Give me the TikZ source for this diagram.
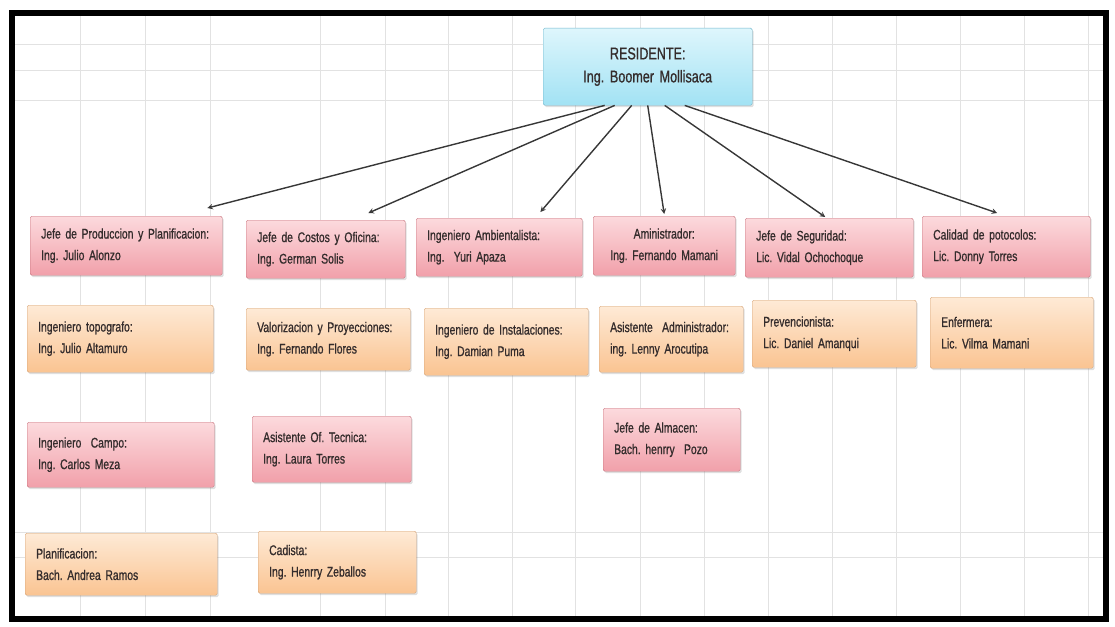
\documentclass[tikz,border=0pt]{standalone}
\usepackage{fontspec}
\setmainfont[FakeStretch=0.74,WordSpace=0.45,FakeBold=0.9]{Liberation Sans}
\frenchspacing
\usetikzlibrary{shadows}

\definecolor{gridgray}{RGB}{226,226,226}
\definecolor{txtgray}{RGB}{52,44,44}
\definecolor{pinktop}{RGB}{252,218,221}
\definecolor{pinkbot}{RGB}{241,160,170}
\definecolor{pinkline}{RGB}{200,118,128}
\definecolor{orangetop}{RGB}{254,234,214}
\definecolor{orangebot}{RGB}{250,196,146}
\definecolor{orangeline}{RGB}{214,164,120}
\definecolor{cyantop}{RGB}{222,246,252}
\definecolor{cyanbot}{RGB}{162,226,244}
\definecolor{cyanline}{RGB}{112,182,204}
\definecolor{arrowgray}{RGB}{55,55,55}

\begin{document}
\begin{tikzpicture}[x=1pt,y=-1pt,>=stealth,
  cargo/.style={draw,rounded corners=1.5pt,anchor=north west,inner xsep=11pt,inner ysep=0pt,
    align=left,text=txtgray,font=\fontsize{14}{21.5}\selectfont,
    drop shadow={opacity=.25,shadow xshift=1.5pt,shadow yshift=-2pt}},
  rosa/.style={cargo,draw=pinkline,top color=pinktop,bottom color=pinkbot},
  naranja/.style={cargo,draw=orangeline,top color=orangetop,bottom color=orangebot},
  jefe/.style={cargo,draw=cyanline,top color=cyantop,bottom color=cyanbot,align=center,
    font=\fontsize{17}{23}\selectfont},
  flecha/.style={->,arrowgray,line width=1.4pt}]
  \useasboundingbox (0,0) rectangle (1115,626);
  % hoja cuadriculada
  \foreach \gx in {80,145,210,320,385,448,512,575,640,704,768,832,896,960,1024,1088}
    \draw[gridgray,line width=1pt] (\gx,14) -- (\gx,618);
  \foreach \gy in {45,70,100,532,557}
    \draw[gridgray,line width=1pt] (12,\gy) -- (1105,\gy);
  \draw[line width=6pt] (11.5,13.5) rectangle (1106,619);

  \node[jefe,text width=187pt,minimum height=77pt] (res) at (543,28)
    {RESIDENTE:\\Ing. Boomer Mollisaca\\[-6pt]};

  % primera fila
  \node[rosa,text width=170pt,minimum height=59pt] (prod) at (30,216)
    {Jefe de Produccion y Planificacion:\\Ing. Julio Alonzo};
  \node[rosa,text width=137pt,minimum height=58pt] (costos) at (246,220)
    {Jefe de Costos y Oficina:\\Ing. German Solis};
  \node[rosa,text width=144pt,minimum height=58pt] (amb) at (416,218)
    {Ingeniero Ambientalista:\\Ing.\ \ Yuri Apaza};
  \node[rosa,text width=120pt,minimum height=59pt,align=center] (admin) at (593,216)
    {Aministrador:\\Ing. Fernando Mamani};
  \node[rosa,text width=146pt,minimum height=59pt] (seg) at (745,218)
    {Jefe de Seguridad:\\Lic. Vidal Ochochoque};
  \node[rosa,text width=146pt,minimum height=61pt] (cal) at (922,216)
    {Calidad de potocolos:\\Lic. Donny Torres};

  % segunda fila
  \node[naranja,text width=164pt,minimum height=67pt] (topo) at (27,305)
    {Ingeniero topografo:\\Ing. Julio Altamuro};
  \node[naranja,text width=142pt,minimum height=62pt] (valor) at (246,308)
    {Valorizacion y Proyecciones:\\Ing. Fernando Flores};
  \node[naranja,text width=142pt,minimum height=67pt] (inst) at (424,308)
    {Ingeniero de Instalaciones:\\Ing. Damian Puma};
  \node[naranja,text width=122pt,minimum height=66pt] (asadm) at (599,306)
    {Asistente\ \ Administrador:\\ing. Lenny Arocutipa};
  \node[naranja,text width=142pt,minimum height=67pt] (prev) at (752,300)
    {Prevencionista:\\Lic. Daniel Amanqui};
  \node[naranja,text width=141pt,minimum height=71pt] (enf) at (930,297)
    {Enfermera:\\Lic. Vilma Mamani};

  % tercera fila
  \node[rosa,text width=165pt,minimum height=65pt] (campo) at (27,422)
    {Ingeniero\ \ Campo:\\Ing. Carlos Meza};
  \node[rosa,text width=137pt,minimum height=66pt] (ofic) at (252,416)
    {Asistente Of. Tecnica:\\Ing. Laura Torres};
  \node[rosa,text width=115pt,minimum height=63pt] (alm) at (603,408)
    {Jefe de Almacen:\\Bach. henrry\ \ Pozo};

  % cuarta fila
  \node[naranja,text width=170pt,minimum height=62pt] (plan) at (25,533)
    {Planificacion:\\Bach. Andrea Ramos};
  \node[naranja,text width=136pt,minimum height=62pt] (cad) at (258,531)
    {Cadista:\\Ing. Henrry Zeballos};

  \draw[flecha] ([xshift=-43pt]res.south) -- ([xshift=-15pt,yshift=8pt]prod.north east);
  \draw[flecha] ([xshift=-33pt]res.south) -- ([xshift=-37pt,yshift=7pt]costos.north east);
  \draw[flecha] ([xshift=-16pt]res.south) -- ([xshift=-42pt,yshift=6pt]amb.north east);
  \draw[flecha] (res.south) -- ([yshift=2pt]admin.north);
  \draw[flecha] ([xshift=17pt]res.south) -- ([xshift=-4pt,yshift=1pt]seg.north);
  \draw[flecha] ([xshift=37pt]res.south) -- ([xshift=-9pt,yshift=3pt]cal.north);
\end{tikzpicture}
\end{document}
